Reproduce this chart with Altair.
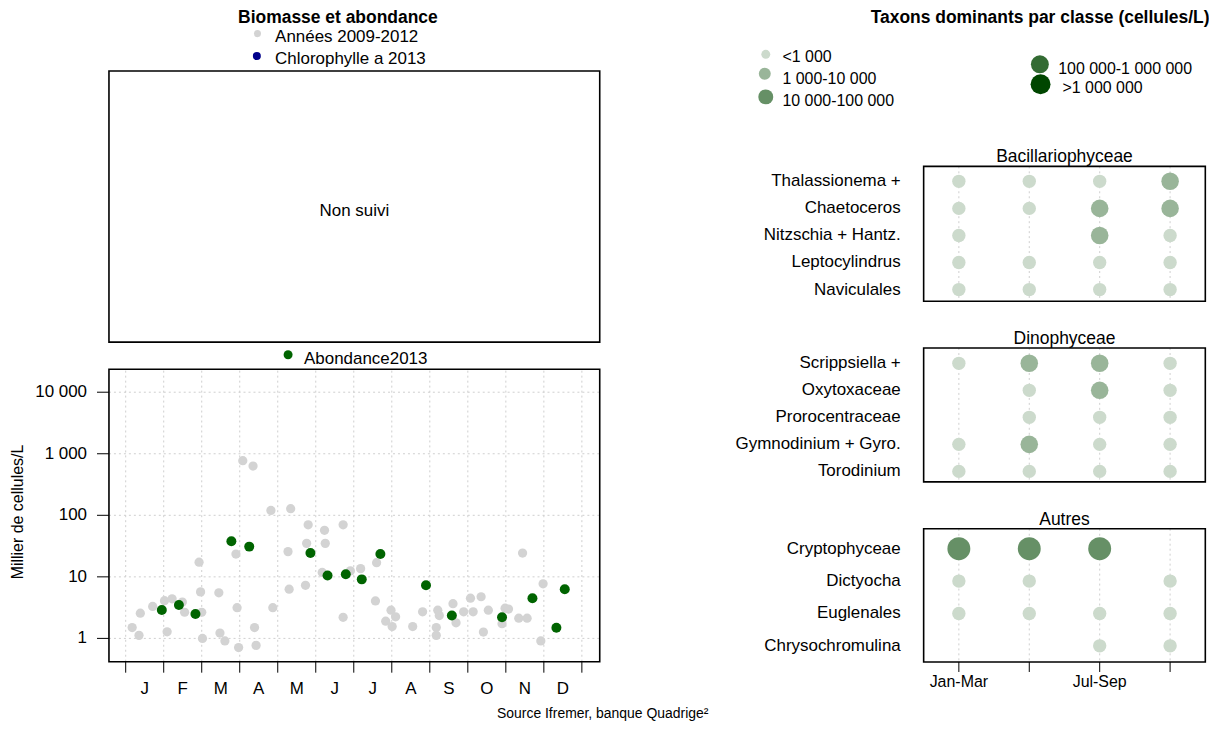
import altair as alt
import pandas as pd

FONT = "Liberation Sans"
W, H = 1205, 715

# ---------------- data ----------------
months = ["J", "F", "M", "A", "M", "J", "J", "A", "S", "O", "N", "D"]
month_ticks = list(range(13))
y_ticks = [1, 10, 100, 1000, 10000]
y_tick_labels = ["1", "10", "100", "1 000", "10 000"]

# Abondance 2009-2012 (month fraction, thousands of cells/L)
hist_month = [0.17, 0.35, 0.385, 0.71, 1.02, 1.09, 1.22, 1.49, 1.55, 1.93, 1.97, 2.0,
              2.02, 2.45, 2.48, 2.61, 2.90, 2.93, 2.97, 3.08, 3.35, 3.39, 3.43, 3.82,
              3.87, 4.27, 4.30, 4.34, 4.73, 4.76, 4.80, 5.17, 5.23, 5.25, 5.72, 5.72,
              5.91, 6.18, 6.57, 6.60, 6.84, 6.98, 7.01, 7.10, 7.55, 7.81, 8.17, 8.17,
              8.21, 8.25, 8.61, 8.69, 8.89, 9.07, 9.14, 9.35, 9.41, 9.54, 9.90, 9.98,
              10.07, 10.34, 10.44, 10.56, 10.92, 10.98]
hist_value = [1.5, 1.12, 2.57, 3.3, 4.1, 1.28, 4.4, 3.9, 2.66, 17.3, 5.7, 2.66,
              1.0, 5.5, 1.22, 0.91, 23.5, 3.16, 0.71, 771, 631, 1.5, 0.77, 120,
              3.16, 25.7, 6.3, 128, 7.3, 35, 70, 11.8, 57, 35, 70, 2.2,
              12.5, 13.6, 4.06, 17, 1.9, 2.87, 1.56, 2.24, 1.56, 2.7, 1.5, 1.12,
              2.87, 2.35, 3.67, 1.79, 2.7, 4.5, 2.7, 4.75, 1.27, 2.87, 1.73, 3.09,
              3.0, 2.13, 24.4, 2.13, 0.91, 7.7]

# Abondance 2013
ab_month = [0.95, 1.40, 1.835, 2.78, 3.25, 4.86, 5.31, 5.79, 6.21, 6.70, 7.90, 8.58,
            9.90, 10.70, 11.33, 11.55]
ab_value = [2.9, 3.5, 2.5, 38, 31, 24.4, 10.5, 11, 9.1, 23.5, 7.3, 2.35,
            2.2, 4.5, 1.49, 6.3]

# Taxons dominants
classes = ["<1 000", "1 000-10 000", "10 000-100 000", "100 000-1 000 000", ">1 000 000"]
quarters = [1, 2, 3, 4]
quarter_labels = ["Jan-Mar", "", "Jul-Sep", ""]

bac_taxa = ["Thalassionema +", "Chaetoceros", "Nitzschia + Hantz.", "Leptocylindrus", "Naviculales"]
bac_cls = [[0, 0, 0, 1], [0, 0, 1, 1], [0, None, 1, 0], [0, 0, 0, 0], [0, 0, 0, 0]]
din_taxa = ["Scrippsiella +", "Oxytoxaceae", "Prorocentraceae", "Gymnodinium + Gyro.", "Torodinium"]
din_cls = [[0, 1, 1, 0], [None, 0, 1, 0], [None, 0, 0, 0], [0, 1, 0, 0], [0, 0, 0, 0]]
aut_taxa = ["Cryptophyceae", "Dictyocha", "Euglenales", "Chrysochromulina"]
aut_cls = [[2, 2, 2, None], [0, 0, None, 0], [0, 0, 0, 0], [None, None, 0, 0]]

# ---------------- styles ----------------
class_colors = ["#CCDACC", "#99B599", "#669066", "#336B33", "#004600"]
panel_sizes = [180, 310, 529, 700, 870]
legend_sizes = [81, 144, 225, 324, 400]
GRID = "#CFCFCF"
GREY = "#D3D3D3"
GREEN = "#006400"
NAVY = "#00008B"


def label(text, x, y, size=17, weight="normal", align="left", angle=0):
    return alt.Chart(pd.DataFrame({"t": [text]})).mark_text(
        font=FONT, fontSize=size, fontWeight=weight, align=align,
        baseline="middle", color="black", angle=angle
    ).encode(x=alt.value(x), y=alt.value(y), text="t:N")


def dot(x, y, size, color):
    return alt.Chart(pd.DataFrame({"d": [0]})).mark_circle(
        size=size, color=color, opacity=1
    ).encode(x=alt.value(x), y=alt.value(y))


def frame_rect(sx, sy, x0, x1, y0, y1):
    return alt.Chart(pd.DataFrame({"d": [0]})).mark_rect(
        filled=False, stroke="black", strokeWidth=1.6
    ).encode(
        x=alt.XDatum(x0, scale=sx, axis=None), x2=alt.X2Datum(x1),
        y=alt.YDatum(y0, scale=sy, axis=None), y2=alt.Y2Datum(y1))


# ---------------- left: legend + empty box ----------------
left_legend = [
    label("Biomasse et abondance", 331, 9, size=17.5, weight="bold", align="center"),
    dot(250.3, 24.5, 50, GREY),
    label("Années 2009-2012", 268, 27.7),
    dot(249.7, 47, 64, NAVY),
    label("Chlorophylle a 2013", 268, 49.7),
]

BX = alt.Scale(domain=[0, 1], range=[101.3, 593.7], nice=False, zero=False)
BY = alt.Scale(domain=[0, 1], range=[334, 62], nice=False, zero=False)
box = alt.layer(
    frame_rect(BX, BY, 0, 1, 0, 1),
    alt.Chart(pd.DataFrame({"t": ["Non suivi"]})).mark_text(
        font=FONT, fontSize=17, align="center", baseline="middle", color="black", dy=5
    ).encode(
        x=alt.XDatum(0.5, scale=BX, axis=None),
        y=alt.YDatum(0.5, scale=BY, axis=None), text="t:N"),
)

ab_legend = [dot(281, 346.7, 81, GREEN), label("Abondance2013", 297, 350.5)]

# ---------------- left: scatter ----------------
X_LO, X_HI = -0.44, 12.47
Y_LO, Y_HI = 0.418, 23580
SX = alt.Scale(domain=[X_LO, X_HI], range=[101.3, 593.7], nice=False, zero=False)
SY = alt.Scale(type="log", domain=[Y_LO, Y_HI], range=[654.7, 361.3], nice=False)

hist_df = pd.DataFrame({"m": hist_month, "v": hist_value})
ab_df = pd.DataFrame({"m": ab_month, "v": ab_value})
mt_df = pd.DataFrame({"m": month_ticks})
ml_df = pd.DataFrame({"m": [i + 0.5 for i in range(len(months))], "lab": months})
yt_df = pd.DataFrame({"v": y_ticks, "lab": y_tick_labels})

scatter = alt.layer(
    # grid
    alt.Chart(mt_df).mark_rule(color=GRID, strokeDash=[2, 3], strokeWidth=1).encode(
        x=alt.X("m:Q", scale=SX, axis=None),
        y=alt.YDatum(Y_LO, scale=SY, axis=None), y2=alt.Y2Datum(Y_HI)),
    alt.Chart(yt_df).mark_rule(color=GRID, strokeDash=[2, 3], strokeWidth=1).encode(
        y=alt.Y("v:Q", scale=SY, axis=None),
        x=alt.XDatum(X_LO, scale=SX, axis=None), x2=alt.X2Datum(X_HI)),
    # points
    alt.Chart(hist_df).mark_circle(color=GREY, size=86, opacity=1).encode(
        x=alt.X("m:Q", scale=SX, axis=None),
        y=alt.Y("v:Q", scale=SY, axis=None)),
    alt.Chart(ab_df).mark_circle(color=GREEN, size=100, opacity=1).encode(
        x=alt.X("m:Q", scale=SX, axis=None),
        y=alt.Y("v:Q", scale=SY, axis=None)),
    frame_rect(SX, SY, X_LO, X_HI, Y_LO, Y_HI),
    # x ticks + month labels
    alt.Chart(mt_df).mark_rule(color="black", strokeWidth=1, y2Offset=11).encode(
        x=alt.X("m:Q", scale=SX, axis=None),
        y=alt.YDatum(Y_LO, scale=SY, axis=None), y2=alt.Y2Datum(Y_LO)),
    alt.Chart(ml_df).mark_text(font=FONT, fontSize=17, color="black", align="center",
                               baseline="top", dy=19.4).encode(
        x=alt.X("m:Q", scale=SX, axis=None),
        y=alt.YDatum(Y_LO, scale=SY, axis=None), text="lab:N"),
    # y ticks + labels
    alt.Chart(yt_df).mark_rule(color="black", strokeWidth=1, x2Offset=-12).encode(
        y=alt.Y("v:Q", scale=SY, axis=None),
        x=alt.XDatum(X_LO, scale=SX, axis=None), x2=alt.X2Datum(X_LO)),
    alt.Chart(yt_df).mark_text(font=FONT, fontSize=17, color="black", align="right",
                               baseline="middle", dx=-22).encode(
        y=alt.Y("v:Q", scale=SY, axis=None),
        x=alt.XDatum(X_LO, scale=SX, axis=None), text="lab:N"),
)
y_title = label("Millier de cellules/L", 9.7, 504.5, size=16, align="center", angle=270)

# ---------------- right: legend ----------------
right_legend = [label("Taxons dominants par classe (cellules/L)", 1035.5, 9,
                      size=17.5, weight="bold", align="center")]
leg_pos = [(760.3, 45.3, 777, 48.2), (759.3, 64.7, 777, 70), (760.3, 88, 777, 92),
           (1035.3, 55.3, 1053.7, 59.7), (1036, 75.3, 1058, 79)]
for k, (dx_, dy_, tx, ty) in enumerate(leg_pos):
    right_legend.append(dot(dx_, dy_, legend_sizes[k], class_colors[k]))
    right_legend.append(label(classes[k], tx, ty, size=16))

# ---------------- right: panels ----------------
QX = alt.Scale(domain=[0.5, 4.5], range=[918.7, 1201.3], nice=False, zero=False)


def panel(title, taxa, cls, y_dom, y_rng, show_x):
    rows = []
    for i, vals in enumerate(cls):
        for q, k in zip(quarters, vals):
            if k is not None:
                rows.append({"row": i + 1, "q": q, "k": k})
    pts = pd.DataFrame(rows)
    names = pd.DataFrame({"row": list(range(1, len(taxa) + 1)), "name": taxa})
    SYp = alt.Scale(domain=y_dom, range=y_rng, nice=False, zero=False)
    grid = alt.Chart(pd.DataFrame({"q": quarters})).mark_rule(
        color=GRID, strokeDash=[2, 3], strokeWidth=1
    ).encode(
        x=alt.X("q:Q", scale=QX, axis=None),
        y=alt.YDatum(y_dom[0], scale=SYp, axis=None), y2=alt.Y2Datum(y_dom[1]))
    dots = alt.Chart(pts).mark_circle(opacity=1).encode(
        x=alt.X("q:Q", scale=QX, axis=None),
        y=alt.Y("row:Q", scale=SYp, axis=None),
        color=alt.Color("k:O", scale=alt.Scale(domain=[0, 1, 2, 3, 4], range=class_colors),
                        legend=None),
        size=alt.Size("k:Q", scale=alt.Scale(domain=[0, 1, 2, 3, 4], range=panel_sizes),
                      legend=None))
    frame = frame_rect(QX, SYp, 0.5, 4.5, y_dom[0], y_dom[1])
    ttl = alt.Chart(pd.DataFrame({"t": [title]})).mark_text(
        font=FONT, fontSize=17.5, align="center", baseline="middle", color="black", dy=-9
    ).encode(
        x=alt.XDatum(2.5, scale=QX, axis=None),
        y=alt.YDatum(y_dom[0], scale=SYp, axis=None), text="t:N")
    row_labels = alt.Chart(names).mark_text(
        font=FONT, fontSize=17, align="right", baseline="middle", color="black", dx=-23
    ).encode(
        x=alt.XDatum(0.5, scale=QX, axis=None),
        y=alt.Y("row:Q", scale=SYp, axis=None), text="name:N")
    layers = [grid, dots, frame, ttl, row_labels]
    if show_x:
        qdf = pd.DataFrame({"q": quarters, "lab": quarter_labels})
        layers.append(alt.Chart(qdf).mark_rule(color="black", strokeWidth=1, y2Offset=10).encode(
            x=alt.X("q:Q", scale=QX, axis=None),
            y=alt.YDatum(y_dom[1], scale=SYp, axis=None), y2=alt.Y2Datum(y_dom[1])))
        layers.append(alt.Chart(qdf[qdf["lab"] != ""]).mark_text(
            font=FONT, fontSize=16, align="center", baseline="top", color="black", dy=11.8
        ).encode(
            x=alt.X("q:Q", scale=QX, axis=None),
            y=alt.YDatum(y_dom[1], scale=SYp, axis=None), text="lab:N"))
    return alt.layer(*layers)


p_bac = panel("Bacillariophyceae", bac_taxa, bac_cls, [0.4475, 5.43], [157.7, 293], False)
p_din = panel("Dinophyceae", din_taxa, din_cls, [0.435, 5.39], [340, 474.3], False)
p_aut = panel("Autres", aut_taxa, aut_cls, [0.384, 4.50], [521.3, 655], True)

source = label("Source Ifremer, banque Quadrige²", 596.7, 707.5, size=14, align="center")

chart = alt.layer(
    *left_legend, box, *ab_legend, scatter, y_title, *right_legend,
    p_bac, p_din, p_aut, source
).resolve_scale(
    x="independent", y="independent", color="independent", size="independent"
).properties(
    width=W, height=H, padding=0, autosize=alt.AutoSizeParams(type="none")
).configure(font=FONT).configure_view(stroke=None)

chart.save("out.html", embed_options={"renderer": "svg", "actions": False})
